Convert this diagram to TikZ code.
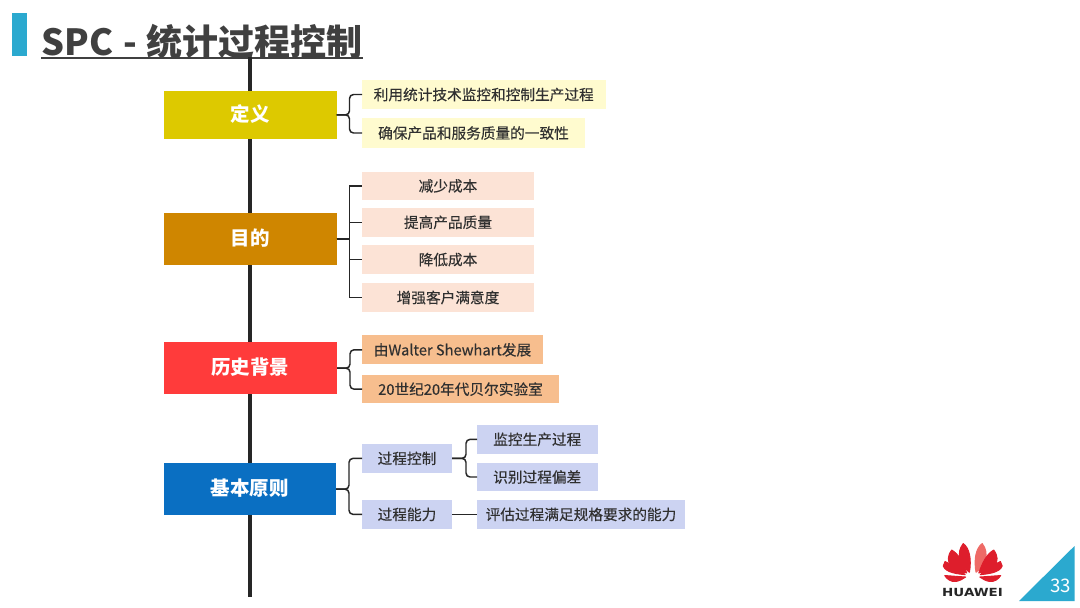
\documentclass[tikz,border=0pt]{standalone}
\usepackage{fontspec}
\setmainfont{Noto Sans CJK SC}
\newfontfamily\leaffont[FakeBold=0.2]{Noto Sans CJK SC}
\newfontfamily\logofont{DejaVu Sans}
\usetikzlibrary{calc}
\definecolor{barblue}{HTML}{2BA9CF}
\definecolor{ink}{HTML}{303030}
\definecolor{titleink}{HTML}{404040}
\definecolor{spine}{HTML}{262626}
\definecolor{hw}{HTML}{DE1E2C}
\definecolor{hwl}{HTML}{EE6A66}
\tikzset{
  x=0.75pt,y=-0.75pt,
  boxbase/.style={inner sep=0pt,outer sep=0pt,align=center},
  head/.style={boxbase,text height=1.1em,text depth=.08em,text=white,font=\fontsize{14.6pt}{16pt}\selectfont\bfseries},
  leaf/.style={boxbase,text height=.92em,text depth=.08em,text=ink,font=\fontsize{11pt}{13pt}\leaffont},
  link/.style={draw=spine,line width=1.1pt,rounded corners=3pt},
  sharp/.style={draw=spine,line width=1.1pt},
}
\newcommand{\bx}[7]{%
  \node[#6,fill=#7,minimum width={(#3-#2)*0.75pt},minimum height={(#5-#4)*0.75pt}]
    (#1) at ({(#2+#3)/2},{(#4+#5)/2}) {\BoxText};}
\newcommand{\BoxText}{}
\newcommand{\tb}[8]{\renewcommand{\BoxText}{#8}\bx{#1}{#2}{#3}{#4}{#5}{#6}{#7}}
\definecolor{cA}{HTML}{DDC900}
\definecolor{cB}{HTML}{CF8600}
\definecolor{cC}{HTML}{FF3B3B}
\definecolor{cD}{HTML}{0A6FC2}
\definecolor{lA}{HTML}{FFFBCF}
\definecolor{lB}{HTML}{FCE3D6}
\definecolor{lC}{HTML}{F7BE8E}
\definecolor{lD}{HTML}{CCD3F2}
\newcommand{\halfLogo}[2]{%
  \begin{scope}[shift={(972.7,0)},xscale=#1,line width=.7pt,line join=round]
    \filldraw[fill=#2,draw=#2] (-3.3,572.3) .. controls (-13,565) and (-17,553) .. (-9.5,543.5) .. controls (-3,548) and (-1,560) .. cycle;
    \filldraw[fill=hw,draw=hw] (-6,573) .. controls (-20,571) and (-30,562) .. (-21,550) .. controls (-14,554) and (-10,562) .. cycle;
    \filldraw[fill=hw,draw=hw] (-7.5,574.7) .. controls (-14,574) and (-27,573) .. (-29.5,566) -- (-27.7,561.5) .. controls (-20,565) and (-12,570) .. cycle;
    \filldraw[fill=hw,draw=hw] (-7,577) -- (-28,575.5) .. controls (-26,579) and (-22,582) .. (-17,581.5) .. controls (-13,581) and (-10,579) .. cycle;
  \end{scope}}
\begin{document}
\begin{tikzpicture}
\useasboundingbox (0,0) rectangle (1080,607);
\fill[white] (0,0) rectangle (1080,607);
% title
\fill[barblue] (12,13) rectangle (27,56);
\node[anchor=base west,inner sep=0pt,text=titleink,font=\fontsize{27pt}{30pt}\selectfont\bfseries] (title) at (41,55) {\spaceskip=.28em SPC - 统计过程控制};
\draw[titleink,line width=1.5pt] (41,57.5) -- (363,57.5);
% spine
\coordinate (spT) at (250,57);
\coordinate (spB) at (250,597);
\draw[spine,line width=2.4pt] (spT) -- (spB);
% heads
\tb{dy}{163.5}{336.5}{91}{138.7}{head}{cA}{定义}
\tb{md}{164}{336.5}{213}{265}{head}{cB}{目的}
\tb{ls}{163.5}{337}{342.3}{394}{head}{cC}{历史背景}
\tb{jb}{163.5}{336}{463.3}{515}{head}{cD}{基本原则}
% leaves
\tb{a1}{362}{605.5}{80}{109}{leaf}{lA}{利用统计技术监控和控制生产过程}
\tb{a2}{362}{585}{118.3}{147.7}{leaf}{lA}{确保产品和服务质量的一致性}
\tb{b1}{362}{534}{171.7}{200}{leaf}{lB}{减少成本}
\tb{b2}{362}{534}{208}{236.5}{leaf}{lB}{提高产品质量}
\tb{b3}{362}{534}{245}{274}{leaf}{lB}{降低成本}
\tb{b4}{362}{534}{283}{312}{leaf}{lB}{增强客户满意度}
\tb{c1}{362}{543}{335.3}{364.3}{leaf}{lC}{由Walter Shewhart发展}
\tb{c2}{362}{559}{375}{403.3}{leaf}{lC}{20世纪20年代贝尔实验室}
\tb{d1}{362}{452}{444}{472.7}{leaf}{lD}{过程控制}
\tb{d2}{362}{452}{500}{528.7}{leaf}{lD}{过程能力}
\tb{e1}{477}{597.5}{425}{453.7}{leaf}{lD}{监控生产过程}
\tb{e2}{477}{597.5}{462.7}{491.3}{leaf}{lD}{识别过程偏差}
\tb{e3}{477}{685}{500}{528.7}{leaf}{lD}{评估过程满足规格要求的能力}
% connectors
\foreach \h/\l in {dy/a1,dy/a2,ls/c1,ls/c2,jb/d1,jb/d2}{
  \draw[link] (\h.east) -- ++(13,0) |- (\l.west);
}
\foreach \l in {b1,b2,b3,b4}{
  \draw[sharp] (md.east) -- ++(13,0) |- (\l.west);
}
\foreach \l in {e1,e2}{
  \draw[link] (d1.east) -- ++(14,0) |- (\l.west);
}
\draw[sharp] (d2.east) -- (e3.west);
% logo
\halfLogo{1}{hw}
\halfLogo{-1}{hwl}
\node[inner sep=0pt,xscale=1.2,text=black!85,font=\fontsize{8.4pt}{10pt}\logofont\bfseries] (hwt) at (972.5,592.5) {HUAWEI};
\fill[barblue] (1019,601) -- (1074.5,546) -- (1074.5,601) -- cycle;
\node[inner sep=0pt,text=white,font=\fontsize{14pt}{16pt}\selectfont] (pg) at (1060.5,586) {33};
\end{tikzpicture}
\end{document}
